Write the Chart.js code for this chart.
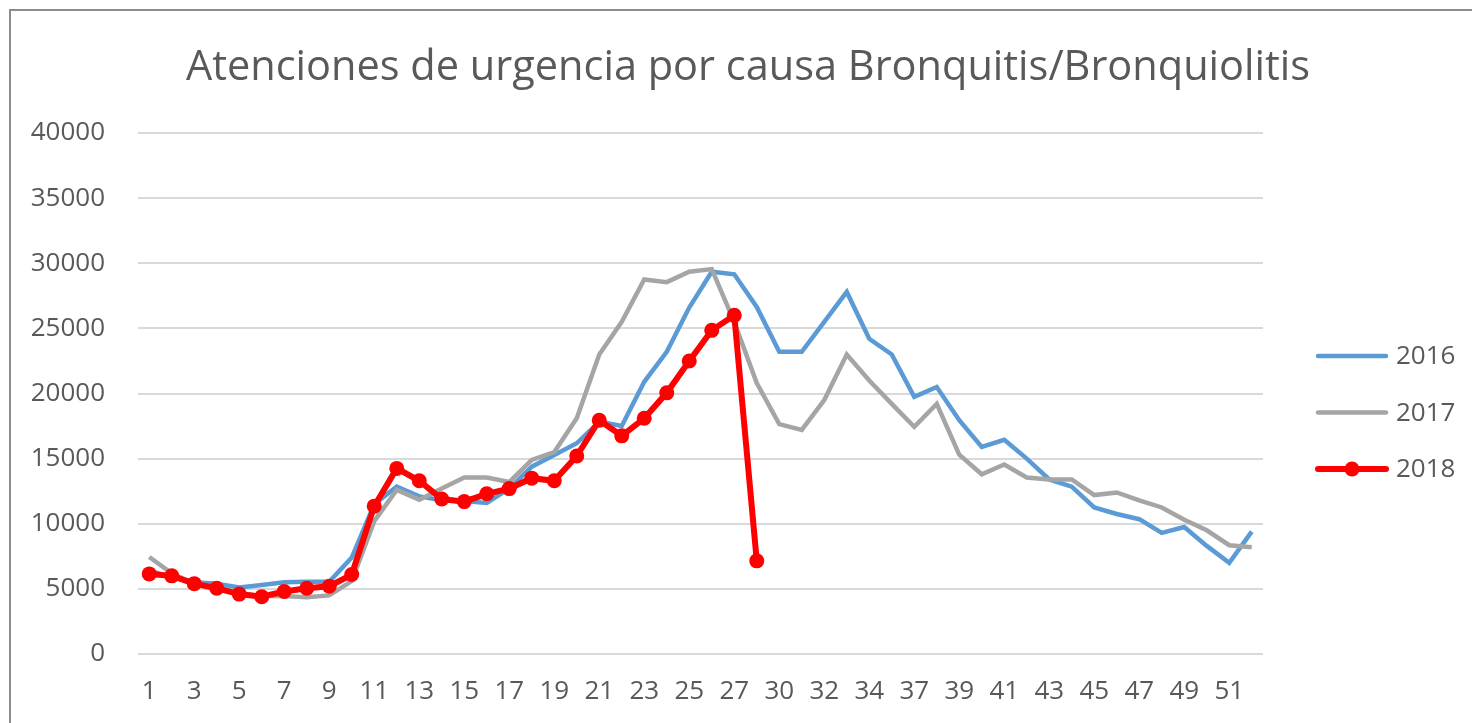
<!DOCTYPE html>
<html>
<head>
<meta charset="utf-8">
<script src="https://cdn.jsdelivr.net/npm/chart.js@4.4.1/dist/chart.umd.min.js"></script>
<style>
  html, body { margin: 0; padding: 0; background: #fff; }
  #wrap { width: 1472px; height: 723px; }
</style>
</head>
<body>
<div id="wrap"><canvas id="chart" width="1472" height="723"></canvas></div>
<script>
const TITLE = 'Atenciones de urgencia por causa Bronquitis/Bronquiolitis';

// epidemiological weeks (two weeks are missing in the source)
const WEEKS = [
    1, 2, 3, 4, 5, 6, 7, 8, 9, 10, 11, 12, 13, 14, 15, 16, 17, 18, 19, 20,
    21, 22, 23, 24, 25, 26, 27, 28, 30, 31, 32, 33, 34, 35, 37, 38, 39, 40,
    41, 42, 43, 44, 45, 46, 47, 48, 49, 50, 51, 52
];

const Y_TICKS = { min: 0, max: 40000, step: 5000 };

const SERIES_2016 = [
    6400, 5900, 5500, 5400, 5100, 5300, 5500, 5550, 5550, 7400,
    11500, 12850, 12100, 11800, 11750, 11600, 12700, 14380, 15280, 16180,
    17840, 17500, 20900, 23200, 26600, 29350, 29150, 26650, 23200, 23200,
    25500, 27800, 24200, 23000, 19750, 20500, 17950, 15900, 16450, 15000,
    13400, 12850, 11250, 10750, 10350, 9300, 9750, 8300, 7000, 9400
];

const SERIES_2017 = [
    7450, 6200, 5400, 5000, 4650, 4450, 4450, 4350, 4500, 5600,
    10200, 12600, 11850, 12700, 13550, 13550, 13200, 14900, 15500, 18100,
    23000, 25500, 28750, 28550, 29350, 29550, 25500, 20800, 17650, 17200,
    19500, 23000, 21000, 19200, 17450, 19200, 15300, 13800, 14550, 13550,
    13400, 13400, 12200, 12400, 11800, 11250, 10300, 9500, 8350, 8200
];

const SERIES_2018 = [
    6150, 6000, 5400, 5050, 4600, 4400, 4800, 5050, 5200, 6100,
    11350, 14250, 13300, 11900, 11700, 12300, 12700, 13500, 13300, 15200,
    17950, 16750, 18100, 20050, 22500, 24850, 26000, 7150
];

const TEXT_COLOR = '#595959';
const FONT = "'Open Sans', 'Noto Sans', sans-serif";

// --- outer frame + title of the chart object ---
const framePlugin = {
    id: 'frame',
    beforeDraw(chart) {
        const ctx = chart.ctx;
        ctx.save();
        ctx.fillStyle = '#fff';
        ctx.fillRect(0, 0, chart.width, chart.height);
        ctx.strokeStyle = '#8c8c8c';
        ctx.lineWidth = 2;
        ctx.strokeRect(10, 10, chart.width + 20, chart.height + 20);

        // title is centred on the whole chart object, not the plot
        ctx.fillStyle = TEXT_COLOR;
        ctx.font = `41.5px ${FONT}`;
        ctx.textAlign = 'center';
        ctx.textBaseline = 'middle';
        ctx.fillText(TITLE, chart.width / 2 + 12, 68);
        ctx.restore();
    }
};

// --- legend on the right, Excel style (line sample + marker) ---
const sideLegend = {
    id: 'sideLegend',
    afterDraw(chart) {
        const ctx = chart.ctx;
        const x0 = chart.chartArea.right + 55;
        const len = 68;
        const y0 = 356, step = 56.5;
        ctx.save();
        chart.data.datasets.forEach((ds, i) => {
            const y = y0 + i * step;
            ctx.strokeStyle = ds.borderColor;
            ctx.lineWidth = ds.borderWidth;
            ctx.lineCap = 'round';
            ctx.beginPath();
            ctx.moveTo(x0, y);
            ctx.lineTo(x0 + len, y);
            ctx.stroke();
            if (ds.pointRadius > 0) {
                ctx.fillStyle = ds.pointBackgroundColor;
                ctx.beginPath();
                ctx.arc(x0 + len / 2, y, ds.pointRadius, 0, Math.PI * 2);
                ctx.fill();
            }
            ctx.fillStyle = TEXT_COLOR;
            ctx.font = `26px ${FONT}`;
            ctx.textBaseline = 'middle';
            ctx.textAlign = 'left';
            ctx.fillText(ds.label, x0 + len + 10, y + 1);
        });
        ctx.restore();
    }
};

new Chart(document.getElementById('chart'), {
    type: 'line',
    data: {
        labels: WEEKS.map(String),
        datasets: [
            {
                label: '2016',
                data: SERIES_2016,
                borderColor: '#5b9bd5',
                backgroundColor: '#5b9bd5',
                borderWidth: 4.5,
                pointRadius: 0,
                tension: 0,
                order: 3,
            },
            {
                label: '2017',
                data: SERIES_2017,
                borderColor: '#a5a5a5',
                backgroundColor: '#a5a5a5',
                borderWidth: 4.5,
                pointRadius: 0,
                tension: 0,
                order: 2,
            },
            {
                label: '2018',
                data: SERIES_2018,
                borderColor: '#ff0000',
                backgroundColor: '#ff0000',
                pointBackgroundColor: '#ff0000',
                pointBorderWidth: 0,
                borderWidth: 6,
                pointRadius: 7.5,
                tension: 0,
                order: 1,
            }
        ]
    },
    options: {
        responsive: false,
        animation: false,
        devicePixelRatio: 1,
        layout: { padding: { left: 0, right: 209, top: 133, bottom: 0 } },
        plugins: {
            legend: { display: false },
            tooltip: { enabled: false },
            title: { display: false },
        },
        scales: {
            x: {
                offset: true,
                grid: { display: false, drawTicks: false },
                border: { display: false },
                ticks: {
                    autoSkip: false,
                    maxRotation: 0,
                    padding: 22,
                    color: TEXT_COLOR,
                    font: { family: FONT, size: 26 },
                    callback: (v, i) => (i % 2 === 0 ? WEEKS[i] : ''),
                },
                afterFit: s => { s.height = 69; },
            },
            y: {
                min: Y_TICKS.min,
                max: Y_TICKS.max,
                grid: { color: '#d9d9d9', lineWidth: 2, drawTicks: false },
                border: { display: false },
                ticks: {
                    stepSize: Y_TICKS.step,
                    padding: 33,
                    color: TEXT_COLOR,
                    font: { family: FONT, size: 26 },
                    callback: v => String(v),
                },
                afterFit: s => { s.width = 138; },
            }
        }
    },
    plugins: [framePlugin, sideLegend]
});
</script>
</body>
</html>
